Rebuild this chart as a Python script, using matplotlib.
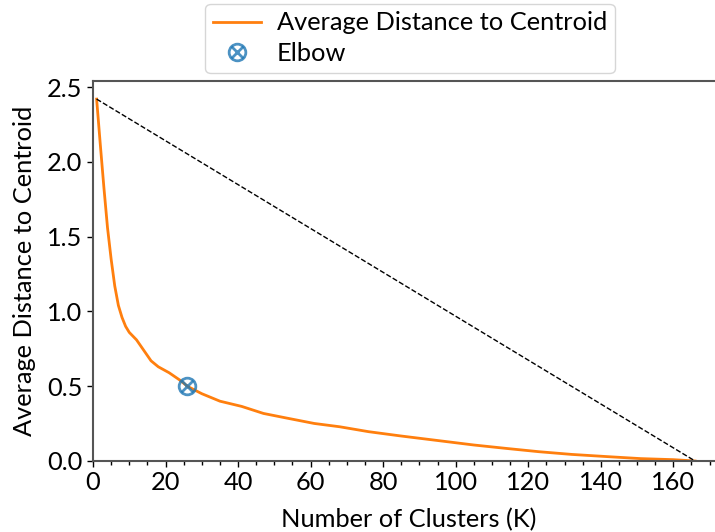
import matplotlib
matplotlib.use("Agg")
import matplotlib.pyplot as plt
from matplotlib.ticker import MultipleLocator

# Data
k_values = [1, 2, 3, 4, 5, 6, 7, 8, 9, 10, 12, 14, 16, 18, 21, 24, 26, 30, 35, 41, 47,
            53, 61, 68, 76, 85, 94, 105, 114, 123, 132, 142, 151, 160, 166]
avg_dist = [2.42, 2.12, 1.83, 1.56, 1.35, 1.17, 1.04, 0.96, 0.90, 0.86, 0.81, 0.74, 0.67,
            0.63, 0.59, 0.54, 0.50, 0.45, 0.40, 0.365, 0.318, 0.289, 0.251, 0.229, 0.196,
            0.167, 0.14, 0.107, 0.084, 0.062, 0.044, 0.029, 0.016, 0.009, 0.0]
elbow_k = 26
elbow_y = 0.50
x_ticks = [0, 20, 40, 60, 80, 100, 120, 140, 160]
y_ticks = [0.0, 0.5, 1.0, 1.5, 2.0, 2.5]

plt.rcParams['font.family'] = ['Lato', 'DejaVu Sans']
FS = 18.3

fig = plt.figure(figsize=(7.15, 5.32), dpi=100)
W, H = 715, 532
left, right, top, bottom = 93, 725, 81, 461
ax = fig.add_axes([left / W, 1 - bottom / H, (right - left) / W, (bottom - top) / H])

line, = ax.plot(k_values, avg_dist, color='#ff7f0e', lw=2.0, label='Average Distance to Centroid')
ax.plot([k_values[0], k_values[-1]], [avg_dist[0], avg_dist[-1]], 'k--', lw=1.0)
m1, = ax.plot([elbow_k], [elbow_y], 'o', ms=12, mfc='none', mec='#1f77b4', mew=2, alpha=0.8)
m2, = ax.plot([elbow_k], [elbow_y], 'x', ms=9, mec='#1f77b4', mew=2, alpha=0.8)

ax.set_xlim(0, 174.25)
ax.set_ylim(0, 2.541)
ax.set_xticks(x_ticks)
ax.set_yticks(y_ticks)
ax.xaxis.set_minor_locator(MultipleLocator(5))
ax.tick_params(axis='both', which='major', labelsize=FS, length=4, width=1)
ax.tick_params(axis='x', which='minor', length=3, width=1)
for s in ax.spines.values():
    s.set_color('#555555')
    s.set_linewidth(1.5)

ax.set_xlabel('Number of Clusters (K)', fontsize=FS, labelpad=10)
ax.set_ylabel('Average Distance to Centroid', fontsize=FS, labelpad=8)

fig.legend([line, (m1, m2)], ['Average Distance to Centroid', 'Elbow'],
           loc='upper center', bbox_to_anchor=(410 / W, 1.0), fontsize=FS,
           frameon=True, borderaxespad=0.15, labelspacing=0.3, borderpad=0.3,
           handlelength=1.9, handletextpad=0.6)

fig.savefig('out.png', dpi=100)
